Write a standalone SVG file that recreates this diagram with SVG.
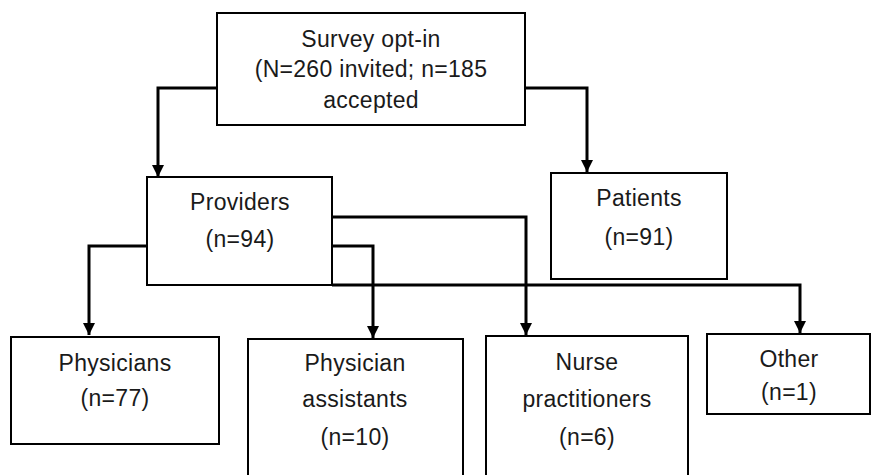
<svg xmlns="http://www.w3.org/2000/svg" width="871" height="475" viewBox="0 0 871 475">
  <style>
    .box { fill: #ffffff; stroke: #000000; stroke-width: 2; }
    .lbl { font-family: "Liberation Sans", Arial, sans-serif; font-size: 23px; letter-spacing: 0.3px; fill: #1a1a1a; text-anchor: middle; }
    .edge { fill: none; stroke: #000000; stroke-width: 3; }
  </style>
  <defs>
    <marker id="arrow" viewBox="0 0 10 10" refX="10" refY="5" markerWidth="4" markerHeight="4" orient="auto" markerUnits="strokeWidth">
      <path d="M0,0 L10,5 L0,10 Z" fill="#000000"/>
    </marker>
  </defs>

  <!-- connectors -->
  <g id="connectors">
    <path class="edge" d="M217,88 H158 V177" marker-end="url(#arrow)"/>
    <path class="edge" d="M525,88 H587 V172" marker-end="url(#arrow)"/>
    <path class="edge" d="M147,246 H89 V335" marker-end="url(#arrow)"/>
    <path class="edge" d="M332,246 H373 V338" marker-end="url(#arrow)"/>
    <path class="edge" d="M332,217 H526 V335" marker-end="url(#arrow)"/>
    <path class="edge" d="M332,285 H800 V333" marker-end="url(#arrow)"/>
  </g>

  <g id="survey">
    <rect class="box" x="217" y="13" width="308" height="112"/>
    <text class="lbl" x="371" y="47">Survey opt-in</text>
    <text class="lbl" x="371" y="77">(N=260 invited; n=185</text>
    <text class="lbl" x="371" y="108">accepted</text>
  </g>

  <g id="providers">
    <rect class="box" x="147" y="177" width="185" height="108"/>
    <text class="lbl" x="240" y="210">Providers</text>
    <text class="lbl" x="240" y="247">(n=94)</text>
  </g>

  <g id="patients">
    <rect class="box" x="551" y="173" width="176" height="106"/>
    <text class="lbl" x="639" y="206">Patients</text>
    <text class="lbl" x="639" y="245">(n=91)</text>
  </g>

  <g id="physicians">
    <rect class="box" x="11" y="337" width="208" height="107"/>
    <text class="lbl" x="115" y="371">Physicians</text>
    <text class="lbl" x="115" y="406">(n=77)</text>
  </g>

  <g id="physician-assistants">
    <rect class="box" x="248" y="339" width="215" height="150"/>
    <text class="lbl" x="355" y="371">Physician</text>
    <text class="lbl" x="355" y="407">assistants</text>
    <text class="lbl" x="355" y="445">(n=10)</text>
  </g>

  <g id="nurse-practitioners">
    <rect class="box" x="486" y="336" width="202" height="150"/>
    <text class="lbl" x="587" y="370">Nurse</text>
    <text class="lbl" x="587" y="407">practitioners</text>
    <text class="lbl" x="587" y="445">(n=6)</text>
  </g>

  <g id="other">
    <rect class="box" x="707" y="334" width="163" height="80"/>
    <text class="lbl" x="789" y="367">Other</text>
    <text class="lbl" x="789" y="400">(n=1)</text>
  </g>
</svg>
